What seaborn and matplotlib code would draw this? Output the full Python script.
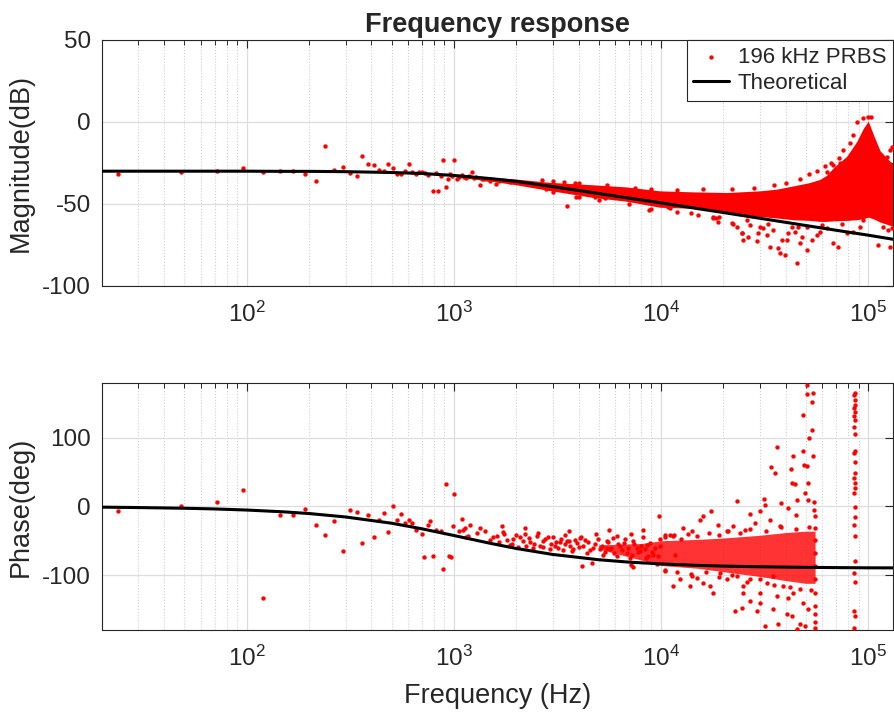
import numpy as np
import pandas as pd
import matplotlib
matplotlib.use("Agg")
import matplotlib.pyplot as plt
import seaborn as sns

# ---------------- data ----------------
# theoretical first-order response
theo_freq = [20, 30, 50, 70, 100, 150, 200, 300, 500, 700, 1000, 1500, 2000, 3000,
             5000, 7000, 10000, 15000, 20000, 30000, 50000, 70000, 100000, 132000]
theo_mag = [-30.0, -30.0, -30.0, -30.0, -30.0, -30.1, -30.1, -30.3, -30.8, -31.4, -32.6,
            -34.5, -36.2, -39.4, -43.6, -46.4, -49.3, -52.8, -55.2, -58.7, -63.1, -66.0,
            -69.0, -71.5]
theo_phase = [-1.0, -1.6, -2.6, -3.6, -5.2, -7.8, -10.3, -15.3, -24.4, -32.5, -42.3,
              -53.7, -61.2, -69.9, -77.6, -81.1, -83.7, -85.8, -86.9, -87.9, -88.7,
              -89.1, -89.4, -89.5]

# PRBS magnitude: single visible points
mag_freq = [24, 48, 72, 96, 120, 144, 168, 192, 217, 240, 265, 290, 314, 339, 362, 385,
            411, 434, 459, 483, 508, 532, 555, 580, 605, 630, 653, 677, 700, 724, 748,
            794, 818, 842, 866, 890, 915, 937, 960, 985, 1000, 1030, 1060, 1090, 1120,
            1150, 1180, 1218, 1250, 1283, 1334, 1360, 1400, 1450, 1500, 1594, 1650,
            1862, 2660, 2780, 3410, 3537, 3850, 3900, 4030, 4830, 5360, 8800, 10800,
            11000, 15140, 17800, 18540, 22300, 24500,
            17900, 18900, 21950, 24530, 25000, 29000, 29530, 31220, 32400, 33620,
            36880, 37570, 39720, 40460, 41220, 42780, 45220, 46930, 47810, 50540,
            53440, 56500, 58630, 63150, 68000, 71900, 78890, 84960, 91500, 112200,
            127800, 131000, 23210, 26420, 34890, 44390, 50540, 38280, 30080, 26920,
            68000, 73240, 63150, 56500, 88170, 94950, 100400, 103000, 110100, 123100,
            130500, 127800,
            3000, 4000, 5500, 7500, 9000, 12000, 16000, 22000, 28000, 35000, 40000,
            47000, 52000, 57000, 62000, 66000, 72000, 76000, 82000, 85000,
            3000, 5000, 7000, 9000, 12000, 14000, 19000, 26000, 33000, 46000, 60000,
            75000, 95000, 118000, 125000]
mag_db = [-31.7, -30.7, -29.7, -28.1, -30.5, -29.7, -29.7, -31.7, -36.0, -14.4, -29.5,
          -27.2, -30.9, -32.7, -20.9, -25.8, -26.2, -29.5, -29.9, -25.8, -27.8, -31.7,
          -31.9, -29.7, -25.8, -30.5, -31.7, -30.5, -30.7, -31.0, -32.2, -42.3, -30.9,
          -42.1, -32.7, -23.2, -39.8, -34.5, -32.0, -33.0, -23.2, -34.6, -33.7, -32.5,
          -33.6, -34.0, -33.0, -30.3, -34.2, -33.8, -38.6, -34.5, -35.0, -34.6, -35.8,
          -37.6, -36.0, -36.6, -35.4, -40.9, -36.6, -51.0, -37.4, -45.5, -45.7, -45.5,
          -46.1, -53.7, -52.0, -52.5, -56.7, -58.7, -58.7, -62.2, -67.9,
          -57.7, -60.8, -61.4, -67.5, -72.0, -72.4, -67.9, -64.8, -68.9, -76.0,
          -77.0, -80.1, -81.1, -72.0, -67.9, -63.8, -85.8, -74.0, -69.9, -63.8,
          -72.0, -68.9, -66.9, -64.8, -74.0, -76.0, -67.9, -66.9, -63.8, -75.0,
          -76.0, -64.8, -63.8, -69.9, -65.9, -66.9, -78.0, -72.0, -63.8, -62.8,
          -26.2, -24.8, -30.3, -37.4, 0.2, 2.2, 2.8, 2.8, -17.1, -21.1,
          -15.0, -17.1,
          -35.8, -37.5, -38.5, -40.0, -41.0, -41.5, -41.0, -41.0, -40.0, -38.5, -37.0,
          -35.0, -32.0, -30.0, -27.0, -25.0, -22.0, -17.0, -13.0, -8.0,
          -42.5, -47.5, -50.0, -53.0, -55.0, -55.5, -58.0, -60.0, -62.0, -64.0, -63.0,
          -62.0, -60.0, -64.0, -66.0]

# PRBS magnitude: dense cloud (lower / upper edge)
mag_band_freq = [1100, 1500, 2000, 2900, 4700, 6800, 9900, 14200, 20800, 30000, 36000,
                 43500, 52000, 58600, 63100, 67900, 78800, 88100, 94800, 100200, 106000,
                 114200, 127600, 132000]
mag_band_lo = [-34.0, -36.0, -38.3, -41.8, -46.0, -48.3, -52.0, -52.6, -55.6, -57.6,
               -58.5, -59.6, -60.0, -60.6, -60.6, -60.3, -60.0, -59.6, -59.0, -58.0,
               -59.0, -61.0, -63.0, -63.7]
mag_band_hi = [-32.0, -33.6, -34.8, -36.8, -38.3, -39.6, -42.0, -42.6, -43.0, -42.0,
               -41.0, -39.0, -37.0, -35.0, -32.5, -28.0, -21.0, -12.0, -4.0, 0.5, -7.5,
               -17.5, -24.0, -25.0]

# PRBS phase: single visible points
ph_freq = [24, 48, 72, 96, 120, 144, 168, 192, 217, 240, 265, 290, 314, 339, 362, 385,
           411, 434, 459, 483, 508, 532, 555, 580, 605, 630, 653, 700, 718, 750, 770,
           794, 818, 870, 890, 920, 952, 970, 990, 1000, 1060, 1090, 1110, 1130, 1150,
           1175, 1290, 1330, 1410, 1490, 1610, 1700, 1730, 1800, 1940, 2080, 2200,
           2330, 2510, 2700, 2850, 3070, 3250, 3440, 3640, 3850, 4150, 4300, 4640,
           4870, 5100, 5460, 5880, 6350, 6850, 7140, 7350, 7640, 8160, 8700, 9550,
           9800, 10420, 10500, 11020, 11640,
           1860, 2040, 2240, 2410, 2600, 2910, 3130, 3380, 3710, 4000, 4380, 4720,
           5260, 5670, 6120, 6600, 7090, 7910, 8540, 9200, 9900, 7350, 6120, 5460,
           4070, 2700, 3510, 7200,
           1550, 1650, 1750, 1900, 2000, 2150, 2300, 2450, 2550, 2750, 2950, 3000,
           3200, 3300, 3450, 3600, 3750, 3950, 4100, 4200, 4450, 4550, 4800, 4950,
           5200, 5350, 5550, 5750, 5950, 6200, 6450, 6700, 6950, 7250, 7450, 7750,
           8000, 8350, 8450, 8900, 9100, 9350, 9700, 9900, 3600, 5600, 8200, 1200, 2200,
           10500, 11500, 12500, 13500, 15000, 17000, 19000, 21000, 24000, 27000, 32000,
           38000, 45000, 52000,
           10500, 12000, 14000, 16500, 19000, 22000, 26000, 30000, 35000, 42000, 47000,
           53000,
           23210, 16020, 17440, 26920, 30080, 31450, 31800, 33870, 35540, 36220,
           37990, 41220, 42470, 43260, 42790, 44400, 45230, 44890, 48350, 49070,
           50540, 51100, 48350, 50540, 50720, 54030, 53440, 53640, 51680, 54430,
           51500, 49810, 55040, 55040, 55450, 55600, 55600, 55600, 55600, 55600,
           55600, 55600, 55600, 55600, 55600,
           49810, 45230, 31800, 36880, 29000, 22780, 24530, 17900, 16020, 14870,
           30080, 26920, 40460, 42790, 46930, 34890, 41220, 36220, 20760, 25000,
           19280, 12350, 14070, 12820, 15430, 18920, 22370, 25460, 28460, 11470,
           14070, 20760, 33620, 37570, 25000, 32400, 39000, 43580, 48710, 51500,
           30080, 17250, 13810, 11470, 23210, 26920, 34890,
           86500, 85800, 86900, 86200, 85600, 86700, 86000, 86800, 85900, 86400,
           86600, 85700, 86300, 86800, 85500, 86100, 86500, 85900, 86700, 86200,
           86000, 86400, 86600, 85800, 86300, 85400, 86100, 85600]
ph_deg = [-7.2, 1.0, 6.3, 24.2, -133.7, -12.5, -13.0, -4.3, -27.5, -42.0, -20.7, -64.2,
          -5.3, -7.7, -53.1, -13.0, -43.9, -19.3, -10.1, -36.7, 0.5, -19.7, -11.6,
          -24.1, -19.3, -24.6, -33.8, -40.0, -73.9, -27.5, -20.7, -72.9, -33.8, -35.6,
          -91.7, 32.4, -72.9, -73.4, -28.5, 18.4, -35.7, -18.3, -34.0, -31.9, -43.9,
          -43.5, -38.1, -30.9, -36.2, -48.3, -42.5, -28.0, -37.7, -48.3, -47.2, -44.3,
          -39.6, -52.2, -43.5, -50.7, -44.3, -58.0, -52.2, -41.0, -58.0, -48.3, -86.9,
          -48.3, -83.0, -39.6, -62.7, -50.7, -45.8, -58.0, -67.5, -39.6, -87.9, -60.3,
          -44.3, -72.5, -84.5, -14.5, -41.0, -94.6, -41.0, -70.0,
          -55.5, -58.8, -56.9, -60.3, -56.9, -62.7, -52.2, -63.7, -65.2, -58.8, -67.5,
          -60.3, -70.0, -62.7, -72.5, -53.1, -74.8, -65.2, -55.5, -70.0, -58.0, -50.7,
          -42.5, -60.3, -45.8, -58.8, -50.7, -86.0,
          -45, -52, -40, -55, -42, -50, -46, -54, -38, -48, -55, -45,
          -60, -47, -55, -50, -62, -53, -44, -58, -52, -64, -55, -47,
          -57, -66, -52, -60, -68, -55, -63, -48, -60, -70, -55, -66,
          -58, -62, -75, -53, -66, -60, -72, -48, -36, -35, -34, -27, -32,
          -45, -42, -47, -40, -43, -38, -41, -36, -38, -33, -36,
          -30, -33, -30,
          -92, -95, -98, -96, -103, -100, -110, -106, -115, -118, -120,
          -122,
          7.3, -13.5, -7.2, -11.0, -7.2, 11.2, 2.5, 57.1, 48.4, 87.0,
          4.9, -2.4, 54.6, 73.5, 34.8, 32.9, 8.8, -12.0, 80.7, 60.4,
          59.0, 34.8, 132.9, 176.4, 164.3, 165.2, 152.2, 111.2, 100.5, 73.5,
          9.7, 19.4, 5.9, -4.8, -14.4, -31.3, -48.2, -67.5, -86.9, -106.2,
          -125.5, -144.8, -156.9, -169.0, -177.7,
          -173.8, -178.6, -173.8, -171.4, -152.1, -152.1, -147.3, -125.5, -111.0, -103.8,
          -140.0, -137.6, -156.9, -160.3, -171.4, -149.7, -132.8, -130.4, -106.2, -125.5,
          -96.5, -106.2, -101.4, -31.3, -19.3, -26.5, -28.9, -33.7, -24.1, -43.4,
          -36.2, -36.2, -19.3, -28.9, -115.9, -111.0, -115.9, -125.5, -140.0, -149.7,
          -125.5, -115.9, -115.9, -115.9, -101.4, -106.2, -101.4,
          165.2, 161.9, 155.6, 147.4, 144.0, 137.7, 131.4, 126.6, 116.0, 106.3,
          81.2, 77.3, 65.3, 48.4, 41.1, 33.9, 26.6, 20.3, -0.9, -15.4,
          -26.5, -43.4, -79.6, -96.5, -110.1, -152.1, -160.3, -177.7]

# PRBS phase: dense cloud (lower / upper edge)
ph_band_freq = [5000, 8000, 10000, 15000, 20000, 30000, 40000, 50000, 55500]
ph_band_lo = [-62, -78, -86, -90, -95, -102, -108, -112, -112]
ph_band_hi = [-56, -54, -50, -48, -46, -42, -38, -36, -36]

# ---------------- style ----------------
sns.set_style("white")
plt.rcParams['font.family'] = ['Liberation Sans', 'DejaVu Sans']
plt.rcParams['mathtext.fontset'] = 'custom'
plt.rcParams['mathtext.rm'] = 'Liberation Sans'
plt.rcParams['mathtext.it'] = 'Liberation Sans:italic'
plt.rcParams['axes.unicode_minus'] = False
plt.rcParams['axes.edgecolor'] = '#262626'
plt.rcParams['axes.linewidth'] = 0.8

AX_COL = '#262626'
RED = '#ff0000'

fig = plt.figure(figsize=(8.94, 7.15), dpi=100)
ax1 = fig.add_axes([0.1141, 0.6, 0.8848, 0.3441])
ax2 = fig.add_axes([0.1141, 0.1189, 0.8848, 0.3455])


def style_axis(ax):
    ax.set_xscale('log')
    ax.set_xlim(20, 132000)
    ax.grid(True, which='major', color='#dddddd', linewidth=0.9, linestyle='-')
    ax.grid(True, which='minor', axis='x', color='#cfcfcf', linewidth=0.8, linestyle=':')
    ax.tick_params(which='both', direction='in', top=True, right=True, colors=AX_COL,
                   labelsize=17.5, labelcolor=AX_COL)
    ax.tick_params(which='major', length=6, width=0.8)
    ax.tick_params(which='minor', length=3.5, width=0.7)
    ax.tick_params(axis='x', pad=11)
    ax.tick_params(axis='y', pad=8)
    ax.set_axisbelow(True)
    for s in ax.spines.values():
        s.set_color(AX_COL)
        s.set_linewidth(0.8)


# magnitude panel
style_axis(ax1)
ax1.fill_between(mag_band_freq, mag_band_lo, mag_band_hi, color=RED, linewidth=0, zorder=2)
sns.scatterplot(x=mag_freq, y=mag_db, ax=ax1, color=RED, s=10, linewidth=0,
                label='196 kHz PRBS', zorder=3)
sns.lineplot(x=theo_freq, y=theo_mag, ax=ax1, color='black', linewidth=2.2,
             label='Theoretical', sort=False, estimator=None, zorder=4)
ax1.set_ylim(-100, 50)
ax1.set_yticks([-100, -50, 0, 50])
ax1.set_ylabel('Magnitude(dB)', fontsize=19.5, color=AX_COL, labelpad=6)
ax1.set_title('Frequency response', fontsize=19.5, fontweight='bold', pad=6)
leg = ax1.legend(loc='upper right', fontsize=16, frameon=True, fancybox=False,
                 framealpha=1, edgecolor=AX_COL, borderaxespad=0, handlelength=1.6,
                 borderpad=0.3, labelspacing=0.25, handletextpad=0.4, markerscale=1.0)
leg.get_frame().set_linewidth(0.8)

# phase panel
style_axis(ax2)
ax2.fill_between(ph_band_freq, ph_band_lo, ph_band_hi, color=RED, alpha=0.8,
                 linewidth=0, zorder=2)
sns.scatterplot(x=ph_freq, y=ph_deg, ax=ax2, color=RED, s=10, linewidth=0,
                legend=False, zorder=3)
sns.lineplot(x=theo_freq, y=theo_phase, ax=ax2, color='black', linewidth=2.2,
             sort=False, estimator=None, legend=False, zorder=4)
ax2.set_ylim(-180, 180)
ax2.set_yticks([-100, 0, 100])
ax2.set_ylabel('Phase(deg)', fontsize=19.5, color=AX_COL, labelpad=6)
ax2.set_xlabel('Frequency (Hz)', fontsize=19.5, color=AX_COL, labelpad=9)

fig.savefig('out.png', dpi=100)
